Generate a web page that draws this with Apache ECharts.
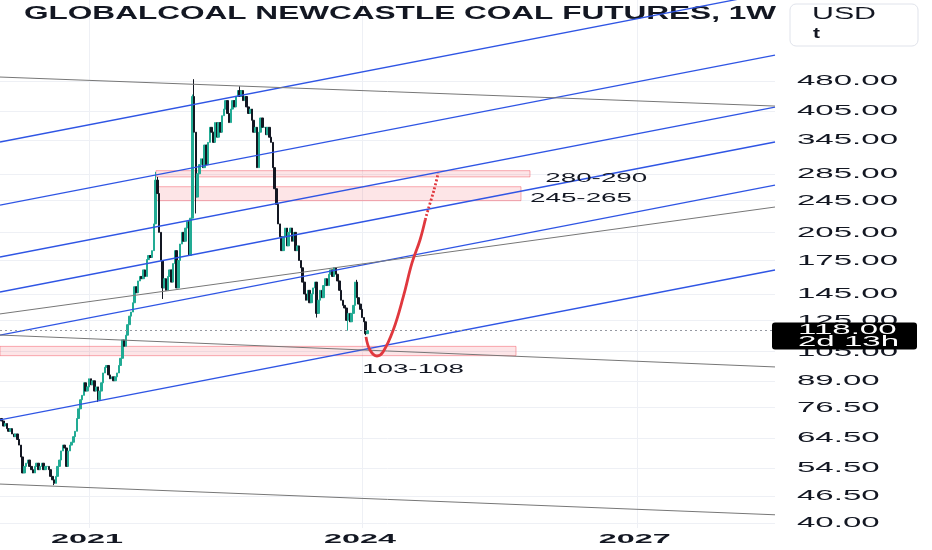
<!DOCTYPE html>
<html><head><meta charset="utf-8">
<script src="https://cdn.jsdelivr.net/npm/echarts@6/dist/echarts.min.js"></script>
<style>html,body{margin:0;padding:0;background:#fff}#c{width:932px;height:550px}</style>
</head><body><div id="c"></div>
<script>
// ---------- data ----------
const title = 'GLOBALCOAL NEWCASTLE COAL FUTURES, 1W';
const currency = 'USD';
const unit = 't';
const firstWeek = '2020-01-20';
const firstOpen = 72;
const closes = [
  71, 69, 70, 68, 67, 68, 66, 65, 66, 64,
  62, 58, 53, 55, 56, 57, 55, 54, 53, 55,
  56, 54, 55, 56, 54, 55, 55, 54, 52, 51,
  50, 52, 55, 57, 60, 62, 61, 55, 60, 62,
  63, 65, 67, 72, 76, 80, 82, 88, 84, 86,
  90, 87, 89, 84, 86, 80, 84, 88, 93, 96,
  97, 92, 90, 91, 89, 91, 93, 97, 101, 112,
  108, 115, 122, 128, 131, 138, 151, 146, 156, 160,
  158, 166, 160, 176, 180, 178, 185, 215, 275, 255,
  205, 175, 150, 158, 148, 160, 166, 155, 172, 185,
  150, 175, 192, 205, 195, 210, 218, 180, 222, 440,
  360, 250, 285, 300, 310, 295, 335, 300, 340, 370,
  360, 340, 380, 350, 380, 360, 395, 410, 430, 400,
  380, 410, 430, 415, 440, 455, 440, 455, 430, 440,
  415, 400, 410, 385, 360, 370, 295, 360, 390, 370,
  370, 355, 370, 350, 340, 295, 262, 240, 215, 200,
  185, 200, 210, 190, 205, 210, 195, 205, 185, 190,
  175, 168, 155, 145, 140, 148, 138, 145, 150, 155,
  130, 140, 148, 142, 152, 158, 152, 162, 166, 160,
  168, 162, 156, 148, 140, 136, 134, 125, 130, 124,
  130, 136, 155, 142, 137, 133, 127, 124, 116, 118
];
const highs = {88: 288, 89: 280, 109: 445, 110: 485, 136: 466, 203: 157};
const lows = {30: 49.5, 55: 79, 92: 141, 111: 228, 180: 127, 198: 118, 208: 115};

const yTicks = [480, 405, 345, 285, 245, 205, 175, 145, 125, 105, 89, 76.5, 64.5, 54.5, 46.5, 40];
const yearTicks = ['2021-01-04', '2024-01-01', '2027-01-04'];
const xRange = ['2020-01-14', '2028-07-10'];
const yRange = [38.9, 757];

// trend lines: [startDate, startPrice, endDate, endPrice]
const blueLines = [
  ['2020-01-14', 340.7, '2028-07-10', 791.6],
  ['2020-01-14', 239.0, '2028-07-10', 555.6],
  ['2020-01-14', 178.5, '2028-07-10', 414.7],
  ['2020-01-14', 146.6, '2028-07-10', 340.7],
  ['2020-01-14', 115.1, '2028-07-10', 267.5],
  ['2020-01-14', 71.4, '2028-07-10', 165.9]
];
const greyLines = [
  ['2020-01-14', 490.9, '2028-07-10', 417.0],
  ['2020-01-14', 129.6, '2028-07-10', 236.4],
  ['2020-01-14', 115.1, '2028-07-10', 96.2],
  ['2020-01-14', 49.8, '2028-07-10', 41.9]
];
// zones: [fromDate, toDate, low, high]
const zones = [
  ['2021-09-29', '2025-11-03', 280, 290],
  ['2021-09-25', '2025-09-28', 245, 265],
  ['2020-01-14', '2025-09-08', 102.5, 108]
];
// zone labels: [text, date, price]
const zoneLabels = [
  ['280-290', '2026-01-03', 277.5],
  ['245-265', '2025-11-03', 247.3],
  ['103-108', '2024-01-01', 94.6]
];
const curveSolid = [
  ['2024-01-17', 113.9], ['2024-02-02', 105.8], ['2024-03-01', 102.3],
  ['2024-03-25', 104.6], ['2024-05-05', 118.4], ['2024-06-14', 142.6],
  ['2024-07-19', 172.6], ['2024-08-20', 196.4], ['2024-09-10', 220]
];
const curveDotted = [
  ['2024-09-10', 220], ['2024-09-21', 232.5], ['2024-10-15', 260], ['2024-11-01', 286]
];
const lastPrice = 118;
const countdown = '2d 13h';

// ---------- build ----------
const L = Math.log;
const D = s => Date.parse(s);
const DAY = 86400000;
const INK = '#131722';
const SANS = '"Liberation Sans", Arial, sans-serif';

const t0 = D(firstWeek);
const candles = closes.map((c, i) => {
  const o = i ? closes[i - 1] : firstOpen;
  const h = highs[i] != null ? highs[i] : Math.max(o, c);
  const l = lows[i] != null ? lows[i] : Math.min(o, c);
  return [t0 + i * 7 * DAY, L(o), L(c), L(l), L(h)];
});

function lineSeries(def, color, width) {
  return {
    type: 'line', silent: true, animation: false, symbol: 'none', z: 3, clip: true,
    data: [[D(def[0]), L(def[1])], [D(def[2]), L(def[3])]],
    lineStyle: {color: color, width: width}
  };
}

const series = [
  {
    type: 'candlestick', name: 'price', animation: false, silent: true, z: 2,
    encode: {x: 0, y: [1, 2, 3, 4]},
    data: candles, barWidth: 2,
    itemStyle: {color: '#22ab94', color0: '#131722', borderColor: '#22ab94', borderColor0: '#131722', borderWidth: 1},
    markArea: {
      silent: true,
      itemStyle: {color: 'rgba(242,54,69,0.13)', borderColor: 'rgba(242,54,69,0.4)', borderWidth: 1},
      data: zones.map(z => [{xAxis: D(z[0]), yAxis: L(z[3])}, {xAxis: D(z[1]), yAxis: L(z[2])}])
    }
  }
];
blueLines.forEach(b => series.push(lineSeries(b, '#2f55e4', 1.3)));
greyLines.forEach(g => series.push(lineSeries(g, '#777777', 1)));
series.push({
  type: 'line', silent: true, animation: false, symbol: 'none', z: 4, smooth: 0.4,
  data: curveSolid.map(p => [D(p[0]), L(p[1])]),
  lineStyle: {color: '#e0383e', width: 2.8}
});
series.push({
  type: 'line', silent: true, animation: false, symbol: 'none', z: 4, smooth: 0.3,
  data: curveDotted.map(p => [D(p[0]), L(p[1])]),
  lineStyle: {color: '#e0383e', width: 2.8, type: [2, 2]}
});
series.push({
  type: 'line', silent: true, animation: false, symbol: 'none', z: 3, data: [],
  markLine: {
    silent: true, symbol: 'none', animation: false,
    data: [{yAxis: L(lastPrice)}],
    lineStyle: {color: '#9598a1', width: 1, type: [2, 3]},
    label: {show: false}
  }
});

const chart = echarts.init(document.getElementById('c'));
chart.setOption({
  backgroundColor: '#fff',
  animation: false,
  grid: {left: 0, right: 157, top: 0, bottom: 22, containLabel: false},
  xAxis: {
    type: 'value', min: D(xRange[0]), max: D(xRange[1]),
    axisLine: {show: false},
    axisTick: {show: false, customValues: yearTicks.map(D)},
    splitLine: {show: true, lineStyle: {color: '#eef0f5', width: 1}},
    axisLabel: {show: false}
  },
  yAxis: {
    type: 'value', position: 'right', min: L(yRange[0]), max: L(yRange[1]), scale: true,
    axisLine: {show: false},
    axisTick: {show: false, customValues: yTicks.map(L)},
    splitLine: {show: true, lineStyle: {color: '#eef0f5', width: 1}},
    axisLabel: {show: false}
  },
  series: series
});

// ---------- stretched texts (the screenshot's text is horizontally stretched) ----------
const ctx = document.createElement('canvas').getContext('2d');
function measure(text, font) { ctx.font = font; return ctx.measureText(text).width; }
const F_LABEL = '15px ' + SANS;
const F_YEAR = 'bold 13px ' + SANS;
const F_NOTE = '12px ' + SANS;
const F_TITLE = 'bold 19px ' + SANS;
const F_USD = '16px ' + SANS;
const sLabel = 101 / measure('480.00', F_LABEL);
const sYear = 72 / measure('2021', F_YEAR);
const sNote = 102 / measure('280-290', F_NOTE);
const sTitle = 752 / measure(title, F_TITLE);
const sUsd = 64 / measure(currency, F_USD);

function txt(str, x, y, font, scale, opts) {
  return Object.assign({
    type: 'text', x: x, y: y, scaleX: scale, silent: true, z: 20,
    style: {text: str, font: font, fill: INK, textVerticalAlign: 'middle', textAlign: 'left'}
  }, opts || {});
}

const px = (x, y) => chart.convertToPixel({gridIndex: 0}, [x, y]);
const gridRight = px(D(xRange[1]), L(lastPrice))[0];
const g = [];
yTicks.forEach(v => {
  const p = px(D(xRange[1]), L(v));
  g.push(txt(v.toFixed(2), gridRight + 22, p[1], F_LABEL, sLabel, {z: 5}));
});
yearTicks.forEach(d => {
  const p = px(D(d), L(yRange[0]));
  const t = txt(String(new Date(D(d)).getUTCFullYear()), p[0] - 2, p[1] + 11, F_YEAR, sYear);
  t.style.textAlign = 'center';
  g.push(t);
});
zoneLabels.forEach(z => {
  const p = px(D(z[1]), L(z[2]));
  g.push(txt(z[0], p[0], p[1], F_NOTE, sNote));
});
// current price tag
const lp = px(D(xRange[1]), L(lastPrice));
g.push({type: 'rect', x: lp[0] - 3, y: lp[1] - 8, z: 30, silent: true,
        shape: {width: 145, height: 27, r: 3}, style: {fill: '#000'}});
g.push(txt(lastPrice.toFixed(2), lp[0] + 23, lp[1] - 0.5, F_LABEL, sLabel, {z: 31, style: {text: lastPrice.toFixed(2), font: F_LABEL, fill: '#fff', textVerticalAlign: 'middle'}}));
g.push(txt(countdown, lp[0] + 23, lp[1] + 12, '14px ' + SANS, 101 / measure(countdown, '14px ' + SANS), {z: 31, style: {text: countdown, font: '14px ' + SANS, fill: '#fff', textVerticalAlign: 'middle'}}));
// title + currency box
g.push(txt(title, 24, 14, F_TITLE, sTitle, {z: 1}));
g.push({type: 'rect', x: 790, y: 4, z: 40, silent: true, shape: {width: 128, height: 42, r: 6},
        style: {fill: '#fff', stroke: '#e0e3eb', lineWidth: 1}});
g.push(txt(currency, 812, 15, F_USD, sUsd, {z: 41}));
g.push(txt(unit, 813, 34, 'bold 15px ' + SANS, 1.4, {z: 41}));
chart.setOption({graphic: g});
</script></body></html>
